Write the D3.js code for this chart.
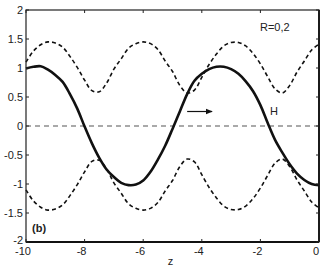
<!DOCTYPE html>
<html><head><meta charset="utf-8">
<script src="https://cdn.jsdelivr.net/npm/d3@7"></script>
<style>body{margin:0;background:#fff}svg{display:block}text{font-family:"Liberation Sans",Arial,sans-serif}</style>
</head><body><svg id="c" width="325" height="267"></svg>
<script>
const zValues = d3.range(-10, 0.001, 0.25).map(v => +v.toFixed(2));
const hValues = [0.99,1.02,1.03,0.97,0.88,0.76,0.55,0.30,-0.01,-0.30,-0.55,-0.75,-0.88,-0.98,-1.02,-1.01,-0.94,-0.79,-0.58,-0.34,-0.05,0.25,0.55,0.78,0.90,0.98,1.02,1.02,0.98,0.90,0.77,0.60,0.36,0.05,-0.24,-0.46,-0.66,-0.82,-0.93,-1.00,-1.02];
const upperValues = [1.10,1.29,1.40,1.45,1.43,1.36,1.20,1.01,0.79,0.61,0.59,0.74,0.98,1.16,1.34,1.42,1.45,1.42,1.32,1.12,0.94,0.70,0.57,0.62,0.84,1.06,1.24,1.38,1.44,1.44,1.38,1.25,1.07,0.85,0.64,0.57,0.70,0.93,1.12,1.31,1.41];
const lowerValues = [-1.10,-1.29,-1.40,-1.45,-1.43,-1.36,-1.20,-1.01,-0.79,-0.61,-0.59,-0.74,-0.98,-1.16,-1.34,-1.42,-1.45,-1.42,-1.32,-1.12,-0.94,-0.70,-0.57,-0.62,-0.84,-1.06,-1.24,-1.38,-1.44,-1.44,-1.38,-1.25,-1.07,-0.85,-0.64,-0.57,-0.70,-0.93,-1.12,-1.31,-1.41];
const xTicks = [-10,-8,-6,-4,-2,0];
const yTicks = [2,1.5,1,0.5,0,-0.5,-1,-1.5,-2];
const yTickLabels = ["2","1.5","1","0.5","0","-0.5","-1","-1.5","-2"];
const arrowZ = [-4.5,-3.65], arrowV = 0.25;

const svg = d3.select("#c");
const L=26,R=319,T=10,B=242;
const x = d3.scaleLinear().domain([-10,0]).range([L,R]);
const y = d3.scaleLinear().domain([-2,2]).range([B,T]);

svg.append("line").attr("x1",L).attr("x2",R).attr("y1",y(0)).attr("y2",y(0))
  .attr("stroke","#555").attr("stroke-width",1.2).attr("stroke-dasharray","5,4");

const line = d3.line().x((d,i)=>x(zValues[i])).y(d=>y(d)).curve(d3.curveCatmullRom);
[upperValues,lowerValues].forEach(arr=>{
  svg.append("path").attr("d",line(arr)).attr("fill","none").attr("stroke","#111")
    .attr("stroke-width",1.6).attr("stroke-dasharray","4,3");
});
svg.append("path").attr("d",line(hValues)).attr("fill","none").attr("stroke","#111").attr("stroke-width",2.6);

svg.append("defs").append("marker").attr("id","ah").attr("viewBox","0 0 10 10").attr("refX",9).attr("refY",5)
  .attr("markerWidth",6).attr("markerHeight",6).attr("orient","auto")
  .append("path").attr("d","M0,1 L10,5 L0,9 Z").attr("fill","#111");
svg.append("line").attr("x1",x(arrowZ[0])).attr("x2",x(arrowZ[1])).attr("y1",y(arrowV)).attr("y2",y(arrowV))
  .attr("stroke","#111").attr("stroke-width",1.2).attr("marker-end","url(#ah)");

svg.append("rect").attr("x",L).attr("y",T).attr("width",R-L).attr("height",B-T).attr("fill","none").attr("stroke","#222").attr("stroke-width",1.2);
svg.append("line").attr("x1",R).attr("x2",R).attr("y1",T).attr("y2",B).attr("stroke","#111").attr("stroke-width",1.8);
svg.append("line").attr("x1",L).attr("x2",R).attr("y1",B).attr("y2",B).attr("stroke","#111").attr("stroke-width",1.8);

const tl=3;
xTicks.forEach(t=>{
  svg.append("line").attr("x1",x(t)).attr("x2",x(t)).attr("y1",B).attr("y2",B-tl).attr("stroke","#222");
  svg.append("line").attr("x1",x(t)).attr("x2",x(t)).attr("y1",T).attr("y2",T+tl).attr("stroke","#222");
  svg.append("text").attr("x",x(t)-3).attr("y",255).attr("text-anchor","middle").attr("font-size",11).attr("fill","#222").text(t);
});
yTicks.forEach((t,i)=>{
  svg.append("line").attr("x1",L).attr("x2",L+tl).attr("y1",y(t)).attr("y2",y(t)).attr("stroke","#222");
  svg.append("line").attr("x1",R).attr("x2",R-tl).attr("y1",y(t)).attr("y2",y(t)).attr("stroke","#222");
  svg.append("text").attr("x",23).attr("y",y(t)+(t===-2?1.5:4)).attr("text-anchor","end").attr("font-size",11).attr("fill","#222").text(yTickLabels[i]);
});
svg.append("text").attr("x",x(-5)-2).attr("y",265).attr("text-anchor","middle").attr("font-size",11).attr("fill","#222").text("z");
svg.append("text").attr("x",260).attr("y",31).attr("font-size",11).attr("fill","#222").text("R=0,2");
svg.append("text").attr("x",270).attr("y",115).attr("font-size",11).attr("fill","#222").text("H");
svg.append("text").attr("x",32).attr("y",232).attr("font-size",11).attr("font-weight","bold").attr("fill","#222").text("(b)");
</script></body></html>
